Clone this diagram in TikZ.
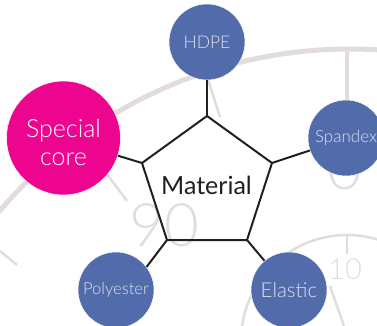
\documentclass[tikz,border=0pt]{standalone}
\usepackage{fontspec}
\setmainfont{Lato Light}
\newfontfamily\labelfont{Lato}
\usepackage{tikz}
\usetikzlibrary{arrows, automata}

\definecolor{dialgrey}{HTML}{E2DDDA}
\definecolor{fibreblue}{HTML}{526BAB}
\definecolor{corepink}{HTML}{EE058F}
\definecolor{ink}{HTML}{231F20}
\definecolor{fibretext}{HTML}{DDE1EE}

\begin{document}
\begin{tikzpicture}[x=1pt, y=-1pt, auto, semithick]
\tikzstyle{every state}=[draw=white, line width=0.5pt, fill=fibreblue, text=fibretext, inner sep=0pt, minimum size=76pt]
\tikzstyle{core}=[fill=corepink, minimum size=114pt]
\tikzstyle{dial}=[draw=dialgrey, line width=2.5pt]
\tikzstyle{digit}=[text=dialgrey, inner sep=0pt]
\tikzstyle{link}=[draw=ink, line width=2pt]

\useasboundingbox (0,0) rectangle (377,326);
\clip (0,0) rectangle (377,326);

% dial behind the diagram
\draw[dial, line width=5pt] (350,509) circle (460);
\draw[dial] (347,341) circle (106);
\draw[dial, line width=3.5pt] (347,50) -- (347,102);
\draw[dial] (347,235) -- (347,254);
\draw[dial] (205,70) -- (220,117);
\draw[dial] (95,158) -- (127,201);
\draw[dial] (0,251) -- (17,265);
\draw[dial] (330,286) -- (344,326);
\node[digit, font=\fontsize{60}{60}\selectfont] (ninety) at (164,225) {90};
\node[digit, font=\fontsize{60}{60}\selectfont] (zero) at (345,168) {0};
\node[digit, font=\fontsize{29}{29}\selectfont] (ten) at (345,269) {10};

% pentagon
\coordinate (ptop) at (207,116);
\coordinate (pright) at (272,163);
\coordinate (pbr) at (247,240);
\coordinate (pbl) at (167,240);
\coordinate (pleft) at (142,163);
\draw[link, line join=miter] (ptop) -- (pright) -- (pbr) -- (pbl) -- (pleft) -- cycle;
\node[text=ink, font=\labelfont\fontsize{25}{28}\selectfont] (material) at (206.5,185) {Material};

\node[state, font=\fontsize{17.5}{20}\selectfont] (hdpe) at (207,42) {HDPE};
\node[state, font=\fontsize{17}{20}\selectfont] (spandex) at (346,138) {Spandex};
\node[state, font=\fontsize{16.5}{20}\selectfont] (polyester) at (116,290) {Polyester};
\node[state, font=\fontsize{20.5}{24}\selectfont] (elastic) at (289,290) {Elastic};
\node[state, core] (special) at (63.5,138) {};
\node[text=white, align=center, font=\fontsize{25}{28}\selectfont] (speciallabel) at (63.5,142) {Special\\core};

\path[link] (hdpe) edge node {} (ptop);
\path[link] (spandex.199) edge node {} (pright);
\path[link] (special.-18) edge node {} (pleft);
\path[link] (polyester.37) edge node {} (pbl);
\path[link] (elastic.130) edge node {} (pbr);
\end{tikzpicture}
\end{document}
